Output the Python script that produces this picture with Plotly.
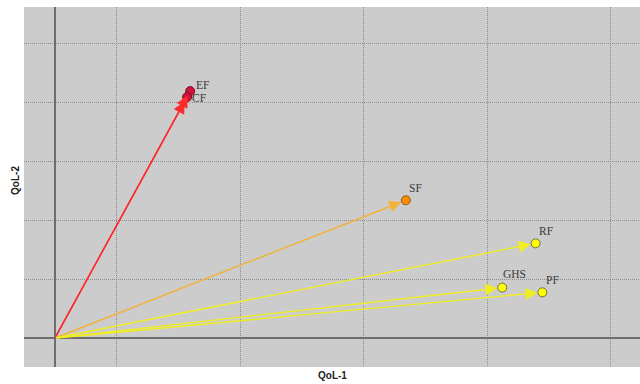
import plotly.graph_objects as go

# Variable loadings on the two quality-of-life components
labels = ["EF", "CF", "SF", "RF", "GHS", "PF"]
qol1 = [0.219, 0.214, 0.568, 0.778, 0.724, 0.789]
qol2 = [0.837, 0.817, 0.467, 0.321, 0.171, 0.155]
groups = ["red", "red", "orange", "yellow", "yellow", "yellow"]

# Styling per group
arrow_col = {"red": "#ff2a2a", "orange": "#f2b23a", "yellow": "#f0ee1e"}
marker_col = {"red": "#d0123c", "orange": "#ff8c00", "yellow": "#ffff00"}
marker_line = {"red": "#7a1222", "orange": "#8a5a1a", "yellow": "#6e6e40"}
label_shift = {"EF": (12, 6), "CF": (12, -1), "SF": (10, 12),
               "RF": (10, 12), "GHS": (12, 14), "PF": (10, 12)}

fig = go.Figure()

fig.add_trace(go.Scatter(
    x=qol1, y=qol2, mode="markers",
    marker=dict(size=9, color=[marker_col[g] for g in groups],
                line=dict(width=1, color=[marker_line[g] for g in groups])),
    hoverinfo="text", text=labels, showlegend=False,
))

annotations = []
for lab, x, y, g in zip(labels, qol1, qol2, groups):
    annotations.append(dict(
        x=x, y=y, ax=0, ay=0, xref="x", yref="y", axref="x", ayref="y",
        text="", showarrow=True, arrowhead=2, arrowsize=1.7, arrowwidth=1.4,
        arrowcolor=arrow_col[g], standoff=5,
    ))
for lab, x, y in zip(labels, qol1, qol2):
    dx, dy = label_shift[lab]
    annotations.append(dict(
        x=x, y=y, xref="x", yref="y", text=lab, showarrow=False,
        xshift=dx, yshift=dy,
        font=dict(family="Liberation Serif", size=11.5, color="#3a3a3a"),
    ))

annotations.append(dict(
    x=0.5, y=-0.025, xref="paper", yref="paper", text="<b>QoL-1</b>",
    showarrow=False, xanchor="center", yanchor="middle",
    font=dict(family="Liberation Sans", size=10, color="#222222"),
))
annotations.append(dict(
    x=-0.015, y=0.519, xref="paper", yref="paper", text="<b>QoL-2</b>",
    showarrow=False, textangle=-90, xanchor="center", yanchor="middle",
    font=dict(family="Liberation Sans", size=10, color="#222222"),
))

axis_common = dict(
    showticklabels=False, ticks="", showgrid=True, gridcolor="#8c8c8c",
    griddash="1px,1px", gridwidth=1, zeroline=True, zerolinecolor="#6e6e6e",
    zerolinewidth=1.8, showline=False, fixedrange=True, title=None,
)

fig.update_layout(
    width=640, height=384,
    margin=dict(l=24, r=0, t=7, b=17),
    paper_bgcolor="white", plot_bgcolor="#cccccc",
    xaxis=dict(range=[-0.05, 0.947], tick0=0.1, dtick=0.2, **axis_common),
    yaxis=dict(range=[-0.098, 1.122], tick0=0, dtick=0.2, **axis_common),
    annotations=annotations,
)

fig.write_html("out.html")
